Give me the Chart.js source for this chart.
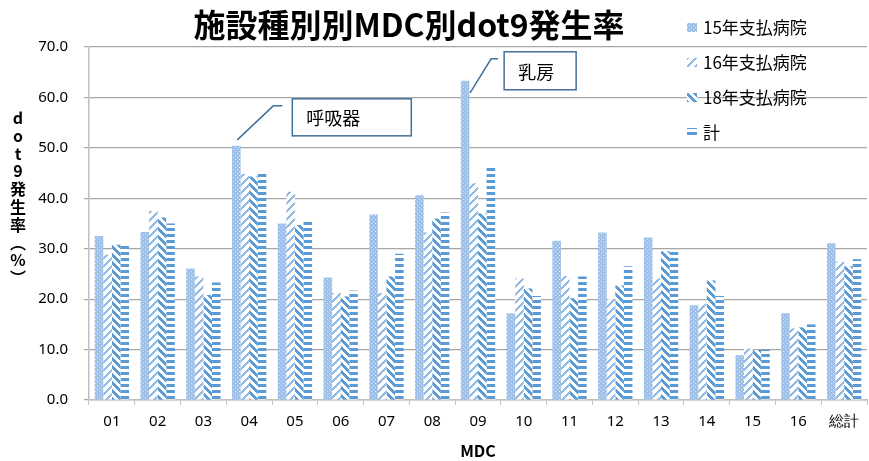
<!DOCTYPE html>
<html>
<head>
<meta charset="utf-8">
<script src="https://cdn.jsdelivr.net/npm/chart.js@4/dist/chart.umd.min.js"></script>
<style>
  html, body { margin: 0; padding: 0; background: #ffffff; }
  #wrap { width: 869px; height: 461px; position: relative; }
</style>
</head>
<body>
<div id="wrap"><canvas id="chart" width="869" height="461"></canvas></div>
<script>
// MDC categories and dot9 incidence rate (%) per hospital group
const categories = ['01','02','03','04','05','06','07','08','09','10','11','12','13','14','15','16','総計'];
const seriesNames = ['15年支払病院','16年支払病院','18年支払病院','計'];
const rate15 = [32.5,33.3,26.1,50.4,35.0,24.3,36.8,40.6,63.3,17.2,31.6,33.2,32.2,18.8,8.9,17.2,31.1];
const rate16 = [28.8,37.5,24.5,44.8,41.3,21.2,21.2,33.2,43.0,24.1,24.6,20.0,24.1,19.0,10.2,14.2,27.4];
const rate18 = [30.8,36.2,20.8,44.3,34.7,20.5,24.5,36.0,37.0,22.1,20.2,22.7,29.5,23.7,9.9,14.4,26.5];
const rateAll = [30.8,35.0,23.3,45.1,35.9,21.7,29.0,37.2,46.6,20.6,24.5,26.5,29.4,20.6,10.0,15.0,27.9];
const yTicks = [0,10,20,30,40,50,60,70];

const chartTitle = '施設種別別MDC別dot9発生率';
const yTitleChars = ['d','o','t','9','発','生','率','︵','%','︶'];
const xTitle = 'MDC';
// callouts: [dataset index, category index, label]
const callouts = [[0, 3, '呼吸器'], [0, 8, '乳房']];

const JP = '"Noto Sans CJK JP", "Noto Sans", sans-serif';

// pixel-based fill patterns
function makePattern(size, painter) {
  const c = document.createElement('canvas');
  c.width = size; c.height = size;
  const g = c.getContext('2d');
  for (let y = 0; y < size; y++) {
    for (let x = 0; x < size; x++) {
      const col = painter(x, y);
      if (col) { g.fillStyle = col; g.fillRect(x, y, 1, 1); }
    }
  }
  return g.createPattern(c, 'repeat');
}
const patDots = makePattern(4, (x, y) => ((x === 1 && y === 1) || (x === 3 && y === 3)) ? '#d6e5f5' : '#9fc1e8');
const patUp = makePattern(8, (x, y) => ((x + y) % 8 < 3) ? '#92bce6' : '#ffffff');
const patDown = makePattern(8, (x, y) => ((x - y + 16) % 8 < 4) ? '#5b9bd5' : '#ffffff');
const patHoriz = makePattern(6, (x, y) => (y % 6 < 3) ? '#5b9bd5' : '#ffffff');
const patterns = [patDots, patUp, patDown, patHoriz];

const decorations = {
  id: 'decorations',
  afterDraw(chart) {
    const ctx = chart.ctx;
    ctx.save();
    // title
    ctx.fillStyle = '#000000';
    ctx.font = 'bold 32px ' + JP;
    ctx.textAlign = 'center';
    ctx.textBaseline = 'middle';
    ctx.fillText(chartTitle, 409, 25);

    // vertical y-axis title
    ctx.font = 'bold 16px ' + JP;
    yTitleChars.forEach((ch, i) => ctx.fillText(ch, 18, 118 + i * 17.8));

    // x-axis title
    ctx.fillText(xTitle, 478, 451);

    // legend
    ctx.textAlign = 'left';
    ctx.font = '17px ' + JP;
    const ly = [28, 63, 98, 133];
    seriesNames.forEach((name, i) => {
      ctx.fillStyle = patterns[i];
      ctx.fillRect(687, ly[i] - 5, 10, 9);
      ctx.fillStyle = '#000000';
      ctx.fillText(name, 703, ly[i]);
    });

    // callouts
    ctx.strokeStyle = '#41719c';
    ctx.lineWidth = 1.5;
    ctx.font = '18px ' + JP;
    callouts.forEach(([ds, idx, text], k) => {
      const bar = chart.getDatasetMeta(ds).data[idx];
      const bx = bar.x, by = bar.y;
      let pts, box;
      if (k === 0) {
        pts = [[bx + 1, by - 6], [bx + 37, by - 40], [bx + 46, by - 40]];
        box = [bx + 56, by - 47, 119, 37];
      } else {
        pts = [[bx + 5, by + 12], [bx + 26, by - 22], [bx + 33, by - 22]];
        box = [bx + 39, by - 29, 72, 38];
      }
      ctx.beginPath();
      ctx.moveTo(pts[0][0], pts[0][1]);
      pts.slice(1).forEach(p => ctx.lineTo(p[0], p[1]));
      ctx.stroke();
      ctx.fillStyle = '#ffffff';
      ctx.fillRect(box[0], box[1], box[2], box[3]);
      ctx.strokeRect(box[0], box[1], box[2], box[3]);
      ctx.fillStyle = '#000000';
      ctx.textAlign = 'left';
      ctx.fillText(text, box[0] + 14, box[1] + box[3] / 2 + 1);
    });
    ctx.restore();
  }
};

new Chart(document.getElementById('chart'), {
  type: 'bar',
  data: {
    labels: categories,
    datasets: [rate15, rate16, rate18, rateAll].map((d, i) => ({
      label: seriesNames[i],
      data: d,
      backgroundColor: patterns[i],
      borderWidth: 0,
      categoryPercentage: 0.75,
      barPercentage: 1.0
    }))
  },
  options: {
    responsive: false,
    animation: false,
    events: [],
    layout: { padding: { top: 47, right: 2, left: 0, bottom: 0 } },
    plugins: { legend: { display: false }, title: { display: false }, tooltip: { enabled: false } },
    scales: {
      x: {
        grid: { offset: true, drawOnChartArea: false, drawTicks: true, tickLength: 5, color: '#bfbfbf' },
        border: { color: '#bfbfbf', width: 1.5 },
        ticks: { color: '#000000', font: { size: 15, family: '"Noto Sans", sans-serif' }, padding: 8, maxRotation: 0 },
        afterFit(s) { s.height = 61; }
      },
      y: {
        min: 0, max: 70,
        afterBuildTicks(s) { s.ticks = yTicks.map(v => ({ value: v })); },
        grid: { color: '#a6a6a6', lineWidth: 1.2, tickLength: 5 },
        border: { color: '#bfbfbf', width: 1.5 },
        ticks: { color: '#000000', font: { size: 15, family: '"Noto Sans", sans-serif' }, padding: 16,
                 callback: v => Number(v).toFixed(1) },
        afterFit(s) { s.width = 89; }
      }
    }
  },
  plugins: [decorations]
});
</script>
</body>
</html>
